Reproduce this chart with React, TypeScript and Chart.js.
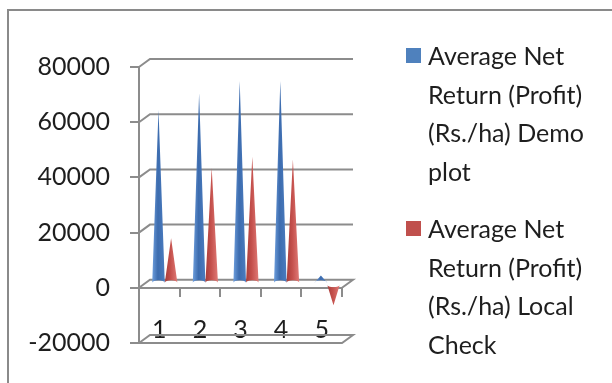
import React, { useEffect, useRef } from "react";
import { Chart, registerables } from "chart.js";

Chart.register(...registerables);

const categories = ["1", "2", "3", "4", "5"];
const demoPlot = [63000, 69000, 73500, 73500, 3000];
const localCheck = [16500, 42000, 46000, 45000, -7800];
const seriesNames = [
  ["Average Net", "Return (Profit)", "(Rs./ha) Demo", "plot"],
  ["Average Net", "Return (Profit)", "(Rs./ha) Local", "Check"],
];
const seriesColors = ["#4F81BD", "#C0504D"];
const yMin = -20000;
const yMax = 80000;
const yStep = 20000;

const DX = 11;
const DY = -8;
const GRID = "#8c8c8c";
const FONT = "Lato, 'Liberation Sans', Arial, sans-serif";

const wallPlugin = {
  id: "wall3d",
  beforeDatasetsDraw(chart: any) {
    const { ctx, chartArea, scales } = chart;
    const y = scales.y;
    const L = chartArea.left;
    const R = chartArea.right;
    ctx.save();
    ctx.strokeStyle = GRID;
    ctx.lineWidth = 2;
    for (let v = yMax; v > 0; v -= yStep) {
      const py = y.getPixelForValue(v);
      ctx.beginPath();
      ctx.moveTo(L, py);
      ctx.lineTo(L + DX, py + DY);
      ctx.lineTo(R + DX, py + DY);
      ctx.stroke();
    }
    const p0 = y.getPixelForValue(0);
    ctx.beginPath();
    ctx.moveTo(L, p0);
    ctx.lineTo(L + DX, p0 + DY);
    ctx.lineTo(R + DX, p0 + DY);
    ctx.lineTo(R, p0);
    ctx.stroke();
    const pb = y.getPixelForValue(yMin);
    ctx.beginPath();
    ctx.moveTo(L, pb);
    ctx.lineTo(L + DX, pb + DY);
    ctx.lineTo(R + DX, pb + DY);
    ctx.lineTo(R, pb);
    ctx.lineTo(L, pb);
    ctx.stroke();
    ctx.restore();
  },
  afterDatasetsDraw(chart: any) {
    const { ctx } = chart;
    const grads = [
      ["#6c9ddc", "#3d6cae", "#4a7cc0"],
      ["#a83d3a", "#c4504c", "#e07a76"],
    ];
    chart.data.datasets.forEach((ds: any, di: number) => {
      const meta = chart.getDatasetMeta(di);
      meta.data.forEach((el: any) => {
        const props = el.getProps(["x", "y", "base", "width"], true);
        const cx = props.x + DX / 2;
        const tip = props.y + DY / 2;
        const base = props.base + DY / 2;
        const hw = props.width / 2;
        const g = ctx.createLinearGradient(cx - hw, 0, cx + hw, 0);
        g.addColorStop(0, grads[di][0]);
        g.addColorStop(0.45, grads[di][1]);
        g.addColorStop(1, grads[di][2]);
        ctx.save();
        ctx.fillStyle = g;
        ctx.beginPath();
        ctx.moveTo(cx, tip);
        ctx.lineTo(cx - hw, base);
        ctx.ellipse(cx, base, hw, 2.5, 0, Math.PI, 0, tip > base);
        ctx.closePath();
        ctx.fill();
        ctx.restore();
      });
    });
  },
};

export default function App() {
  const ref = useRef<HTMLCanvasElement>(null);
  useEffect(() => {
    if (!ref.current) return;
    const chart = new Chart(ref.current, {
      type: "bar",
      data: {
        labels: categories,
        datasets: [
          { label: seriesNames[0].join(" "), data: demoPlot, backgroundColor: "rgba(0,0,0,0)" },
          { label: seriesNames[1].join(" "), data: localCheck, backgroundColor: "rgba(0,0,0,0)" },
        ],
      },
      options: {
        animation: false,
        responsive: false,
        maintainAspectRatio: false,
        layout: { padding: { left: 0, top: 67, right: 270, bottom: 40 } },
        datasets: { bar: { categoryPercentage: 0.62, barPercentage: 1 } },
        plugins: { legend: { display: false }, tooltip: { enabled: false } },
        scales: {
          x: {
            position: { y: 0 } as any,
            offset: true,
            grid: {
              display: true,
              drawOnChartArea: false,
              offset: true,
              tickLength: 8,
              color: GRID,
              lineWidth: 2,
            },
            border: { display: true, color: GRID, width: 2 },
            ticks: { color: "#1e1e1e", font: { size: 25, family: FONT }, padding: 19 },
            afterFit: (s: any) => {
              s.paddingLeft = 0;
              s.paddingRight = 0;
              s.paddingTop = 0;
              s.paddingBottom = 0;
            },
          },
          y: {
            min: yMin,
            max: yMax,
            ticks: {
              stepSize: yStep,
              color: "#1e1e1e",
              font: { size: 25, family: FONT },
              padding: 20,
              callback: (v: any) => String(v),
            },
            grid: {
              display: true,
              drawOnChartArea: false,
              tickLength: 9,
              color: GRID,
              lineWidth: 2,
            },
            border: { display: true, color: GRID, width: 2 },
            afterFit: (s: any) => {
              s.width = 139;
              s.paddingTop = 0;
              s.paddingBottom = 0;
              s.paddingLeft = 0;
              s.paddingRight = 0;
            },
          },
        },
      },
      plugins: [wallPlugin],
    });
    return () => chart.destroy();
  }, []);

  const legendTop = [36, 209];
  return (
    <div style={{ position: "fixed", left: 0, top: 0, width: 612, height: 383, background: "#fff", overflow: "hidden" }}>
      <div
        style={{
          position: "absolute",
          left: 7,
          top: 9,
          width: 700,
          height: 500,
          borderLeft: "2px solid #8a8a8a",
          borderTop: "2px solid #8a8a8a",
        }}
      />
      <canvas ref={ref} width={612} height={383} style={{ position: "absolute", left: 0, top: 0 }} />
      {seriesNames.map((lines, i) => (
        <div key={i} style={{ position: "absolute", left: 406, top: legendTop[i] }}>
          <div
            style={{
              position: "absolute",
              left: 0,
              top: 12,
              width: 15,
              height: 15,
              background: seriesColors[i],
            }}
          />
          <div
            style={{
              position: "absolute",
              left: 22,
              top: 0,
              fontFamily: FONT,
              fontSize: 25,
              lineHeight: "38.7px",
              color: "#1e1e1e",
              whiteSpace: "nowrap",
            }}
          >
            {lines.map((t, j) => (
              <div key={j}>{t}</div>
            ))}
          </div>
        </div>
      ))}
    </div>
  );
}
